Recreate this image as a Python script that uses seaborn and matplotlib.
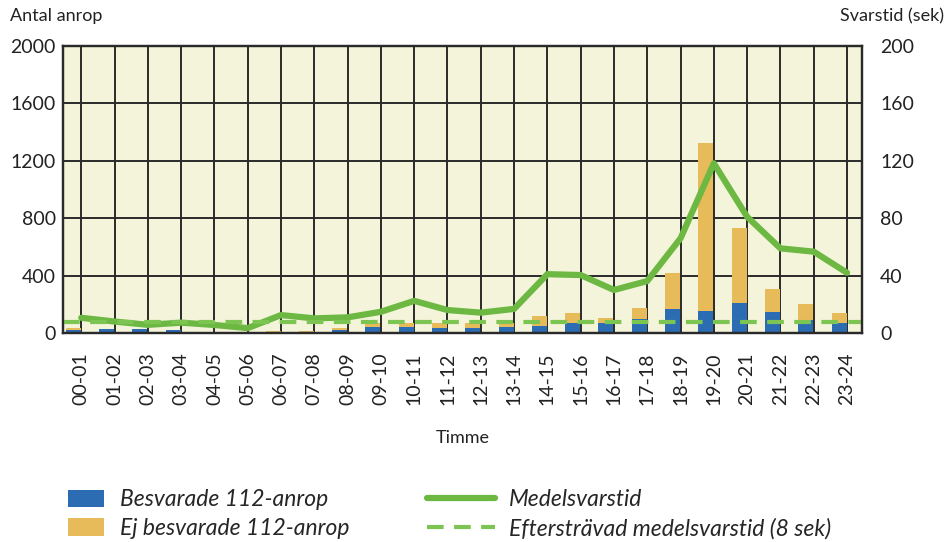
import matplotlib
matplotlib.use("Agg")
import matplotlib.pyplot as plt
import numpy as np
import pandas as pd
import seaborn as sns

# ---------------------------------------------------------------------------
# Data
# ---------------------------------------------------------------------------
hours = [
    "00-01", "01-02", "02-03", "03-04", "04-05", "05-06", "06-07", "07-08",
    "08-09", "09-10", "10-11", "11-12", "12-13", "13-14", "14-15", "15-16",
    "16-17", "17-18", "18-19", "19-20", "20-21", "21-22", "22-23", "23-24",
]
answered = [18, 28, 28, 21, 5, 5, 3, 10, 21, 44, 44, 33, 33, 44, 51, 67,
            67, 98, 167, 153, 211, 144, 90, 67]
total_calls = [35, 30, 30, 23, 6, 6, 14, 16, 37, 67, 72, 72, 67, 72, 116, 140,
               107, 176, 416, 1322, 730, 305, 200, 137]
mean_response = [10.6, 8.0, 5.7, 7.2, 5.6, 3.4, 12.5, 10.2, 10.9, 14.8, 22.4, 16.0,
                 14.2, 16.8, 41.0, 40.4, 30.0, 36.2, 66.0, 118.3, 81.0, 59.0, 56.7, 42.0]
target_response = 8

BLUE = "#2b6cb3"
ORANGE = "#e8bb5a"
GREEN = "#6cb843"
GREEN_LIGHT = "#7dc552"
BG = "#f4f4da"
GRID = "#2a2a2a"

sns.set_theme(style="white")
plt.rcParams["font.family"] = ["Lato", "DejaVu Sans"]

pos = np.arange(len(hours))
df = pd.DataFrame({
    "hour": hours,
    "bar_x": pos - 0.24,
    "x": pos,
    "answered": answered,
    "total": total_calls,
    "mean": mean_response,
})

fig = plt.figure(figsize=(9.51, 5.42), dpi=100)
ax = fig.add_axes([0.0662, 0.3856, 0.8402, 0.5294])
ax.set_facecolor(BG)

# stacked bars: total (orange) behind answered (blue)
sns.barplot(data=df, x="bar_x", y="total", native_scale=True, width=0.45,
            color=ORANGE, saturation=1, linewidth=0, ax=ax,
            label="Ej besvarade 112-anrop")
sns.barplot(data=df, x="bar_x", y="answered", native_scale=True, width=0.45,
            color=BLUE, saturation=1, linewidth=0, ax=ax,
            label="Besvarade 112-anrop")
bar_h, bar_l = ax.get_legend_handles_labels()
if ax.get_legend() is not None:
    ax.get_legend().remove()

ax.set_xlim(-0.55, 23.45)
ax.set_ylim(0, 2000)
ax.set_yticks([0, 400, 800, 1200, 1600, 2000])
ax.set_xticks(pos)
ax.set_xticklabels(hours, rotation=90)
ax.set_axisbelow(True)
ax.grid(True, color=GRID, linewidth=1.4)
ax.tick_params(axis="both", length=0, labelsize=14, colors="#222222")
ax.tick_params(axis="y", pad=5)
ax.tick_params(axis="x", pad=14, labelsize=14)
ax.set_xlabel("Timme", fontsize=13, labelpad=18, color="#222222")
ax.set_ylabel("")
for s in ax.spines.values():
    s.set_color(GRID)
    s.set_linewidth(1.6)

# response times on the right axis
ax2 = ax.twinx()
sns.lineplot(data=df, x="x", y="mean", color=GREEN, linewidth=4.5, ax=ax2,
             label="Medelsvarstid", legend=False)
ax2.axhline(target_response, color=GREEN_LIGHT, linewidth=3, dashes=(4, 2.5),
            label="Eftersträvad medelsvarstid (8 sek)")
ax2.set_ylim(0, 200)
ax2.set_yticks([0, 40, 80, 120, 160, 200])
ax2.set_ylabel("")
ax2.tick_params(axis="y", length=0, labelsize=14, pad=13, colors="#222222")
for s in ax2.spines.values():
    s.set_color(GRID)
    s.set_linewidth(1.6)
ax2.set_xlim(-0.55, 23.45)

fig.text(0.011, 0.985, "Antal anrop", fontsize=13, va="top", ha="left", color="#222222")
fig.text(0.993, 0.985, "Svarstid (sek)", fontsize=13, va="top", ha="right", color="#222222")

# legends
legend_font = {"size": 16.5, "style": "italic"}
order = [bar_l.index("Besvarade 112-anrop"), bar_l.index("Ej besvarade 112-anrop")]
fig.legend([bar_h[i] for i in order], [bar_l[i] for i in order],
           loc="upper left", bbox_to_anchor=(0.05, 0.135), frameon=False,
           handlelength=1.55, handleheight=0.8, handletextpad=0.7,
           labelspacing=0.33, prop=legend_font)
line_h, line_l = ax2.get_legend_handles_labels()
fig.legend(line_h, line_l, loc="upper left", bbox_to_anchor=(0.427, 0.135),
           frameon=False, handlelength=3.0, handletextpad=0.6, labelspacing=0.33,
           prop=legend_font)

fig.savefig("out.png", dpi=100)
